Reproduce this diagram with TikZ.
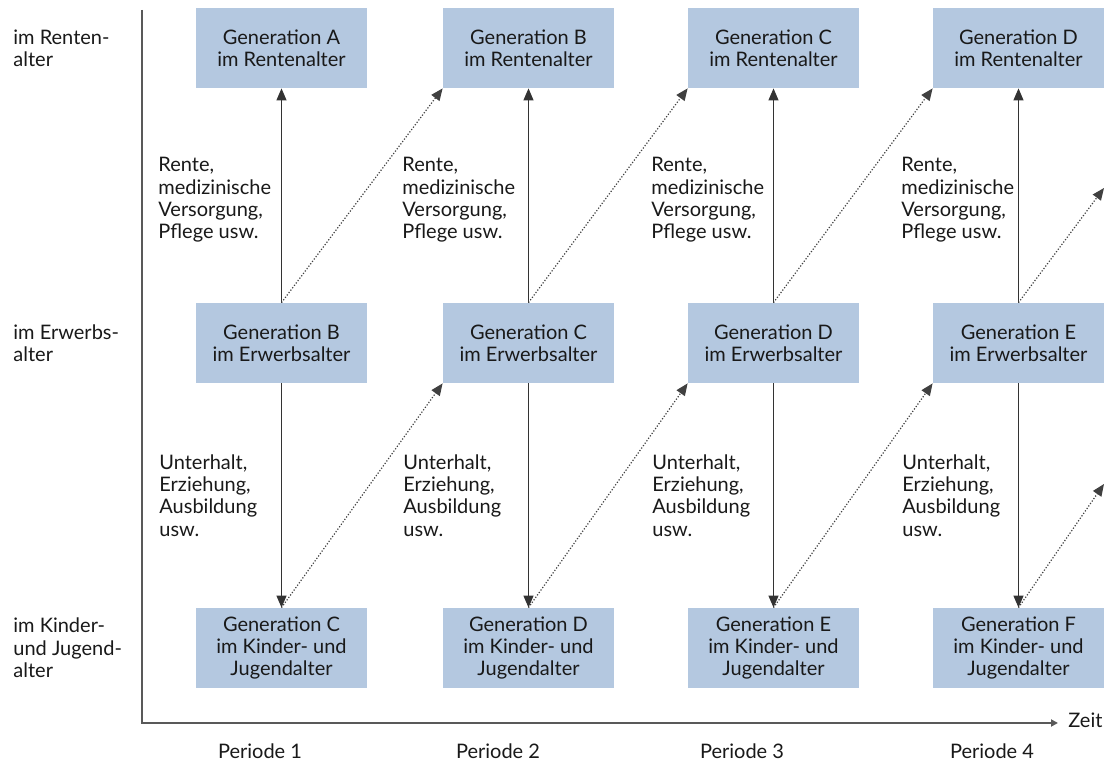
\documentclass[tikz,border=0pt]{standalone}
\usepackage{fontspec}
\setmainfont{Lato}
\usetikzlibrary{arrows.meta}
\definecolor{boxblue}{RGB}{180,200,224}
\definecolor{inkgray}{RGB}{25,25,25}

\begin{document}
\begin{tikzpicture}[%
      x=0.5pt, y=-0.5pt,
      font=\fontsize{10}{11.2}\selectfont,
      gen/.style={fill=boxblue, minimum width=85.5pt, minimum height=40pt,
        inner sep=0pt, align=center, text=inkgray},
      note/.style={anchor=north west, inner sep=0pt, align=left, text=inkgray},
      flow/.style={color=black!80, line width=0.6pt,
        -{Triangle[length=6pt,width=5pt]}},
      hand/.style={color=black!75, line width=0.6pt,
        dash pattern=on 0.6pt off 0.9pt,
        -{Triangle[length=6pt,width=5pt]}},
      axis/.style={color=black!65, line width=0.9pt,
        -{Triangle[length=3.5pt,width=3.5pt]}},
      ]
      \useasboundingbox (0,0) rectangle (1105,764);

      % generations, one column per period
      \node[gen] (r1) at (281.5,48) {Generation A\\im Rentenalter};
      \node[gen] (r2) at (528.5,48) {Generation B\\im Rentenalter};
      \node[gen] (r3) at (773.5,48) {Generation C\\im Rentenalter};
      \node[gen] (r4) at (1018.5,48) {Generation D\\im Rentenalter};

      \node[gen] (e1) at (281.5,343) {Generation B\\im Erwerbsalter};
      \node[gen] (e2) at (528.5,343) {Generation C\\im Erwerbsalter};
      \node[gen] (e3) at (773.5,343) {Generation D\\im Erwerbsalter};
      \node[gen] (e4) at (1018.5,343) {Generation E\\im Erwerbsalter};

      \node[gen] (k1) at (281.5,648) {Generation C\\im Kinder- und\\Jugendalter};
      \node[gen] (k2) at (528.5,648) {Generation D\\im Kinder- und\\Jugendalter};
      \node[gen] (k3) at (773.5,648) {Generation E\\im Kinder- und\\Jugendalter};
      \node[gen] (k4) at (1018.5,648) {Generation F\\im Kinder- und\\Jugendalter};

      % age groups
      \node[note, anchor=west] (ageR) at (13,0 |- r1) {im Renten-\\alter};
      \node[note, anchor=west] (ageE) at (13,0 |- e1) {im Erwerbs-\\alter};
      \node[note, anchor=west] (ageK) at (13,0 |- k1) {im Kinder-\\und Jugend-\\alter};

      % transfers
      \node[note] (rente1) at (158,157) {Rente,\\medizinische\\Versorgung,\\Pflege usw.};
      \node[note] (rente2) at (402,157) {Rente,\\medizinische\\Versorgung,\\Pflege usw.};
      \node[note] (rente3) at (651,157) {Rente,\\medizinische\\Versorgung,\\Pflege usw.};
      \node[note] (rente4) at (901,157) {Rente,\\medizinische\\Versorgung,\\Pflege usw.};

      \node[note] (unter1) at (159,454) {Unterhalt,\\Erziehung,\\Ausbildung\\usw.};
      \node[note] (unter2) at (403,454) {Unterhalt,\\Erziehung,\\Ausbildung\\usw.};
      \node[note] (unter3) at (652,454) {Unterhalt,\\Erziehung,\\Ausbildung\\usw.};
      \node[note] (unter4) at (902,454) {Unterhalt,\\Erziehung,\\Ausbildung\\usw.};

      \draw[flow] (e1.north) -- (r1.south);
      \draw[flow] (e2.north) -- (r2.south);
      \draw[flow] (e3.north) -- (r3.south);
      \draw[flow] (e4.north) -- (r4.south);

      \draw[flow] (e1.south) -- (k1.north);
      \draw[flow] (e2.south) -- (k2.north);
      \draw[flow] (e3.south) -- (k3.north);
      \draw[flow] (e4.south) -- (k4.north);

      % each generation moves up one row in the next period
      \coordinate (r5) at (1104,188);
      \coordinate (e5) at (1104,484);
      \draw[hand] (e1.north) -- (r2.south west);
      \draw[hand] (e2.north) -- (r3.south west);
      \draw[hand] (e3.north) -- (r4.south west);
      \draw[hand] (e4.north) -- (r5);
      \draw[hand] (k1.north) -- (e2.south west);
      \draw[hand] (k2.north) -- (e3.south west);
      \draw[hand] (k3.north) -- (e4.south west);
      \draw[hand] (k4.north) -- (e5);

      % time axis
      \coordinate (top) at (142,10);
      \coordinate (origin) at (142,723);
      \coordinate (tend) at (1058,723);
      \draw[axis] (top) -- (origin) -- (tend);
      \node[anchor=base west, inner sep=0pt, text=inkgray] (zeit) at (1068,728) {Zeit};

      \node[anchor=base, inner sep=0pt, text=inkgray] (p1) at (260,759) {Periode 1};
      \node[anchor=base, inner sep=0pt, text=inkgray] (p2) at (498,759) {Periode 2};
      \node[anchor=base, inner sep=0pt, text=inkgray] (p3) at (742,759) {Periode 3};
      \node[anchor=base, inner sep=0pt, text=inkgray] (p4) at (992,759) {Periode 4};
      \end{tikzpicture}
\end{document}
